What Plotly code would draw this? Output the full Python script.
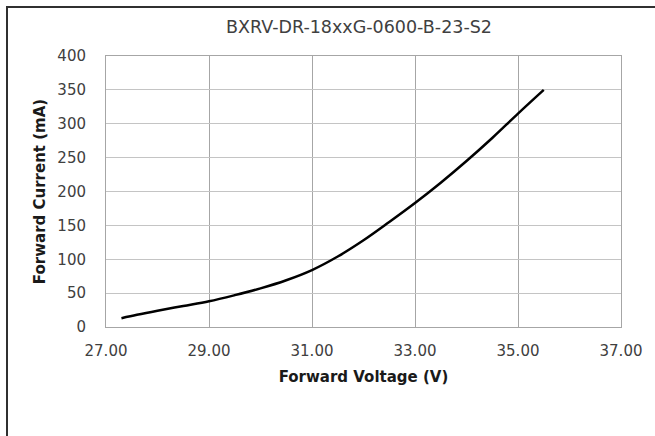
import plotly.graph_objects as go

voltage = [27.3, 27.6, 28.0, 28.5, 29.0, 29.5, 30.0, 30.5, 31.0, 31.5, 32.0, 32.5, 33.0, 33.5, 34.0, 34.5, 35.0, 35.5]
current = [13, 18, 24, 31, 38, 47, 57, 69, 84, 104, 128, 155, 183, 213, 245, 279, 315, 350]

title_text = "BXRV-DR-18xxG-0600-B-23-S2"
x_title = "Forward Voltage (V)"
y_title = "Forward Current (mA)"
x_ticks = [27, 29, 31, 33, 35, 37]
y_ticks = [0, 50, 100, 150, 200, 250, 300, 350, 400]

FONT = "DejaVu Sans"
W, H = 655, 436
L, R, T, B = 106, 34, 56, 109
PW, PH = W - L - R, H - T - B


def px_x(p):
    return (p - L) / PW


def px_y(p):
    return (H - B - p) / PH


fig = go.Figure()
fig.add_trace(go.Scatter(x=voltage, y=current, mode="lines",
                         line=dict(color="black", width=2.5, shape="spline"),
                         showlegend=False))

border = dict(color="#303030", width=2)
fig.update_layout(
    width=W, height=H,
    margin=dict(l=L, r=R, t=T, b=B),
    paper_bgcolor="white", plot_bgcolor="white",
    font=dict(family=FONT, color="#404040", size=15),
    title=dict(text=title_text, x=px_x(359), xref="paper", xanchor="center",
               y=1 - 27 / H, yanchor="middle",
               font=dict(family=FONT, size=17.5, color="#404040")),
    xaxis=dict(range=[27, 37], tickvals=x_ticks,
               ticktext=[f"{v:.2f}" for v in x_ticks],
               showgrid=True, gridcolor="#a6a6a6", gridwidth=1,
               showline=True, linecolor="#a6a6a6", mirror=True, linewidth=1,
               zeroline=False, ticks="", ticklabelstandoff=10,
               tickfont=dict(size=15, color="#404040"),
               title=dict(text=f"<b>{x_title}</b>", standoff=12,
                          font=dict(size=15, color="#1a1a1a"))),
    yaxis=dict(range=[0, 400], tickvals=y_ticks,
               showgrid=True, gridcolor="#c4c4c4", gridwidth=1,
               showline=True, linecolor="#a6a6a6", mirror=True, linewidth=1,
               zeroline=False, ticks="", ticklabelstandoff=16,
               tickfont=dict(size=15, color="#404040"),
               title=dict(text=f"<b>{y_title}</b>", standoff=8,
                          font=dict(size=15, color="#1a1a1a"))),
    shapes=[
        dict(type="line", xref="paper", yref="paper",
             x0=px_x(6), x1=px_x(W + 5), y0=px_y(7), y1=px_y(7),
             line=border, layer="above"),
        dict(type="line", xref="paper", yref="paper",
             x0=px_x(7), x1=px_x(7), y0=px_y(6), y1=px_y(H + 5),
             line=border, layer="above"),
    ],
)

fig.write_html("out.html",
               config={"displayModeBar": False},
               post_script="document.body.style.margin='0';document.body.style.overflow='hidden';")
